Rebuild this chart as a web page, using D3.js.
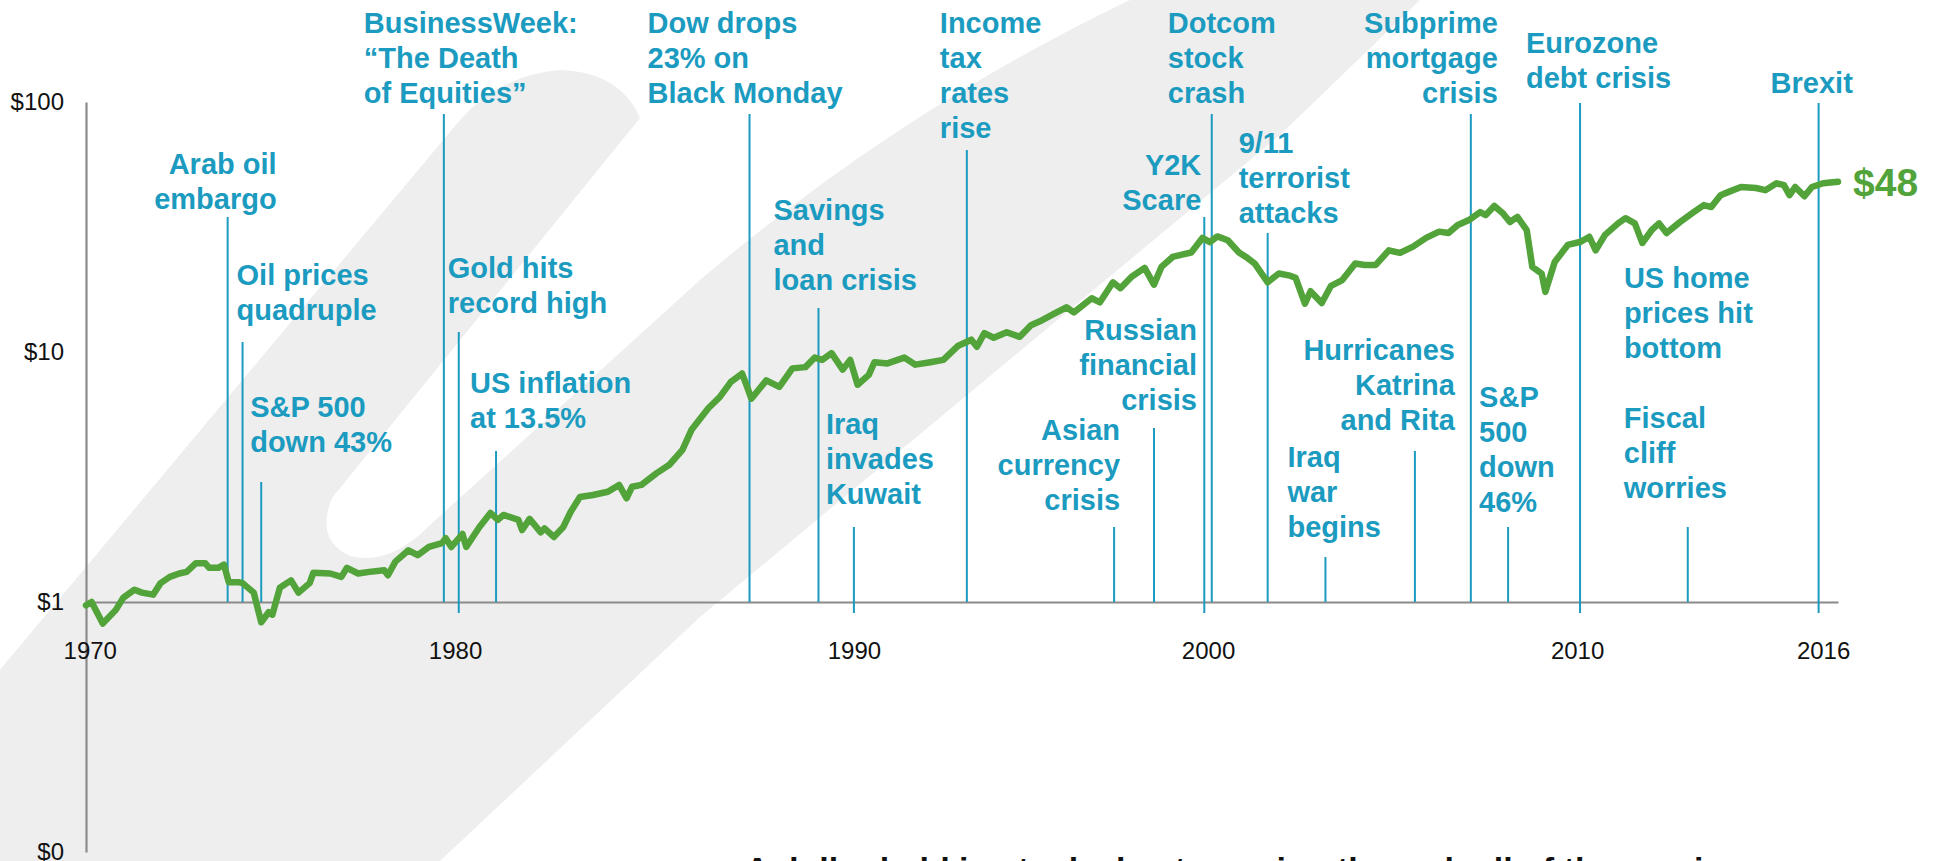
<!DOCTYPE html>
<html>
<head>
<meta charset="utf-8">
<script src="https://cdn.jsdelivr.net/npm/d3@7"></script>
<style>
  html, body { margin: 0; padding: 0; background: #ffffff; }
  svg { display: block; }
</style>
</head>
<body>
<svg id="chart" width="1934" height="861"></svg>
<script>
// ---------------- DATA ----------------
const years = [
  1970.0, 1970.15, 1970.45, 1970.8, 1971.0, 1971.3, 1971.5, 1971.8, 1972.0, 1972.25,
  1972.5, 1972.7, 1972.95, 1973.2, 1973.3, 1973.55, 1973.7, 1973.83, 1974.1, 1974.2,
  1974.5, 1974.7, 1974.9, 1975.0, 1975.2, 1975.5, 1975.7, 1976.0, 1976.1, 1976.55,
  1976.85, 1977.0, 1977.3, 1977.6, 1978.0, 1978.1, 1978.3, 1978.65, 1978.9, 1979.2,
  1979.55, 1979.65, 1979.8, 1980.1, 1980.2, 1980.55, 1980.85, 1981.05, 1981.2, 1981.6,
  1981.7, 1981.9, 1982.2, 1982.3, 1982.55, 1982.8, 1983.0, 1983.25, 1983.6, 1984.0,
  1984.3, 1984.5, 1984.65, 1984.9, 1985.3, 1985.65, 1986.0, 1986.25, 1986.7, 1987.0,
  1987.3, 1987.6, 1987.7, 1987.85, 1988.25, 1988.6, 1988.95, 1989.3, 1989.55, 1989.75,
  1990.0, 1990.3, 1990.5, 1990.7, 1991.0, 1991.15, 1991.5, 1991.95, 1992.25, 1992.65,
  1993.0, 1993.4, 1993.75, 1993.9, 1994.1, 1994.35, 1994.7, 1995.05, 1995.35, 1995.65,
  1996.0, 1996.3, 1996.5, 1996.98, 1997.2, 1997.55, 1997.75, 1998.05, 1998.4, 1998.65,
  1998.85, 1999.15, 1999.4, 1999.65, 1999.95, 2000.15, 2000.35, 2000.63, 2000.93, 2001.17,
  2001.35, 2001.7, 2002.0, 2002.3, 2002.45, 2002.7, 2002.85, 2003.15, 2003.4, 2003.7,
  2004.05, 2004.3, 2004.6, 2004.95, 2005.25, 2005.6, 2005.95, 2006.3, 2006.55, 2006.8,
  2007.1, 2007.4, 2007.55, 2007.78, 2008.0, 2008.2, 2008.4, 2008.65, 2008.8, 2009.05,
  2009.15, 2009.4, 2009.75, 2010.1, 2010.33, 2010.5, 2010.75, 2011.1, 2011.3, 2011.55,
  2011.75, 2012.0, 2012.2, 2012.4, 2012.75, 2013.1, 2013.4, 2013.6, 2013.85, 2014.05,
  2014.4, 2014.8, 2015.05, 2015.35, 2015.55, 2015.7, 2015.85, 2016.1, 2016.3, 2016.6,
  2017.0
];
const values = [
  0.97, 1.0, 0.82, 0.93, 1.04, 1.12, 1.09, 1.07, 1.19, 1.26,
  1.30, 1.32, 1.43, 1.43, 1.37, 1.37, 1.41, 1.20, 1.20, 1.19,
  1.09, 0.83, 0.91, 0.89, 1.14, 1.22, 1.09, 1.19, 1.31, 1.30,
  1.26, 1.37, 1.30, 1.32, 1.34, 1.28, 1.45, 1.61, 1.54, 1.66,
  1.72, 1.80, 1.66, 1.87, 1.66, 1.99, 2.27, 2.13, 2.23, 2.13,
  1.94, 2.15, 1.90, 1.97, 1.82, 1.99, 2.29, 2.63, 2.68, 2.76,
  2.94, 2.60, 2.89, 2.94, 3.27, 3.54, 4.06, 4.9, 5.97, 6.6,
  7.6, 8.2, 7.5, 6.5, 7.7, 7.25, 8.6, 8.7, 9.5, 9.3,
  9.9, 8.5, 9.3, 7.4, 8.1, 9.1, 9.0, 9.5, 8.9, 9.1,
  9.3, 10.6, 11.2, 10.5, 11.9, 11.4, 12.0, 11.5, 12.8, 13.4,
  14.3, 15.1, 14.4, 16.4, 15.8, 19.0, 18.0, 20.0, 21.7, 18.6,
  21.9, 24.0, 24.5, 25.0, 28.6, 27.5, 29.0, 28.0, 25.0, 23.7,
  22.6, 19.0, 20.6, 20.2, 19.8, 15.6, 17.5, 15.7, 18.4, 19.4,
  22.6, 22.3, 22.3, 25.5, 24.9, 26.4, 28.6, 30.3, 29.9, 32.2,
  33.7, 36.3, 35.3, 38.4, 36.0, 33.1, 34.7, 30.7, 21.9, 20.6,
  17.4, 22.9, 26.8, 27.6, 28.9, 25.5, 29.4, 32.7, 34.3, 32.7,
  27.3, 30.7, 32.7, 29.9, 33.0, 36.0, 38.7, 38.0, 42.4, 43.6,
  45.7, 45.3, 44.4, 47.3, 46.5, 42.4, 45.7, 42.0, 45.7, 47.3,
  48.0
];
const finalLabel = "$48";

const yTickValues = [0.1, 1, 10, 100];
const yTickLabels = ["$0", "$1", "$10", "$100"];
const xTickDates = [1970.1, 1979.9, 1990.6, 2000.1, 2010.0, 2016.6];
const xTickLabels = ["1970", "1980", "1990", "2000", "2010", "2016"];

const eventDates = [
  1973.8, 1974.2, 1974.7, 1979.6, 1980.0, 1981.0, 1987.8, 1989.65, 1990.6, 1993.63,
  1997.58, 1998.65, 2000.0, 2000.2, 2001.7, 2003.25, 2005.65, 2007.15, 2008.15, 2010.08,
  2011.9, 2012.97, 2016.48
];
const eventLabels = [
  ["Arab oil", "embargo"],
  ["Oil prices", "quadruple"],
  ["S&P 500", "down 43%"],
  ["BusinessWeek:", "\u201CThe Death", "of Equities\u201D"],
  ["Gold hits", "record high"],
  ["US inflation", "at 13.5%"],
  ["Dow drops", "23% on", "Black Monday"],
  ["Savings", "and", "loan crisis"],
  ["Iraq", "invades", "Kuwait"],
  ["Income", "tax", "rates", "rise"],
  ["Asian", "currency", "crisis"],
  ["Russian", "financial", "crisis"],
  ["Y2K", "Scare"],
  ["Dotcom", "stock", "crash"],
  ["9/11", "terrorist", "attacks"],
  ["Iraq", "war", "begins"],
  ["Hurricanes", "Katrina", "and Rita"],
  ["Subprime", "mortgage", "crisis"],
  ["S&P", "500", "down", "46%"],
  ["Eurozone", "debt crisis"],
  ["US home", "prices hit", "bottom"],
  ["Fiscal", "cliff", "worries"],
  ["Brexit"]
];
const footnote = "A dollar held in stocks kept growing through all of these crises";

// ---------------- LAYOUT (pixels, styles) ----------------
const eventLayout = [
  {a: "end",   dx: 49,   y0: 174, top: 217, below: false, line: true},
  {a: "start", dx: -6,   y0: 285, top: 342, below: false, line: true},
  {a: "start", dx: -11,  y0: 417, top: 482, below: false, line: true},
  {a: "start", dx: -80,  y0: 33,  top: 114, below: false, line: true},
  {a: "start", dx: -11,  y0: 278, top: 332, below: true,  line: true},
  {a: "start", dx: -26,  y0: 393, top: 451, below: false, line: true},
  {a: "start", dx: -102, y0: 33,  top: 114, below: false, line: true},
  {a: "start", dx: -45,  y0: 220, top: 308, below: false, line: true},
  {a: "start", dx: -28,  y0: 434, top: 527, below: true,  line: true},
  {a: "start", dx: -27,  y0: 33,  top: 150, below: false, line: true},
  {a: "end",   dx: 6,    y0: 440, top: 527, below: false, line: true},
  {a: "end",   dx: 43,   y0: 340, top: 428, below: false, line: true},
  {a: "end",   dx: -3,   y0: 175, top: 217, below: true,  line: true},
  {a: "start", dx: -44,  y0: 33,  top: 114, below: false, line: true},
  {a: "start", dx: -29,  y0: 153, top: 233, below: false, line: true},
  {a: "start", dx: -38,  y0: 467, top: 557, below: false, line: true},
  {a: "end",   dx: 40,   y0: 360, top: 451, below: false, line: true},
  {a: "end",   dx: 27,   y0: 33,  top: 114, below: false, line: true},
  {a: "start", dx: -29,  y0: 407, top: 527, below: false, line: true},
  {a: "start", dx: -54,  y0: 53,  top: 103, below: true,  line: true},
  {a: "start", dx: -24,  y0: 288, top: 0,   below: false, line: false},
  {a: "start", dx: -64,  y0: 428, top: 527, below: false, line: true},
  {a: "start", dx: -48,  y0: 93,  top: 103, below: true,  line: true}
];

const TEAL = "#1b9bbf";
const GREEN = "#52a339";
const AXIS = "#8a8a8a";
const FONT = "'Liberation Sans', Arial, Helvetica, sans-serif";

const svg = d3.select("#chart");

// ---------------- WATERMARK ----------------
svg.append("path")
  .attr("d", "M-160,861 L460,120 Q500,75 560,70 Q620,72 640,118 L332,498 Q315,540 350,556 Q390,566 430,525 L700,280 Q900,110 1130,0 L1420,0 L1280,135 L700,617 L440,861 Z")
  .attr("fill", "#eeeeee");

// ---------------- SCALES ----------------
const x = d3.scaleLinear().domain([1970, 2017]).range([86, 1838]);
const y = d3.scaleLog().domain([0.1, 100]).range([852, 102]);

// ---------------- AXES ----------------
const yAxisG = svg.append("g")
  .attr("transform", `translate(${x(1970)},0)`)
  .call(d3.axisLeft(y).tickValues(yTickValues).tickFormat((d, i) => yTickLabels[i])
        .tickSize(0).tickSizeOuter(0).tickPadding(22));
const xAxisG = svg.append("g")
  .attr("transform", `translate(0,${y(1)})`)
  .call(d3.axisBottom(x).tickValues(xTickDates).tickFormat((d, i) => xTickLabels[i])
        .tickSize(0).tickSizeOuter(0).tickPadding(40));
[yAxisG, xAxisG].forEach(g => {
  g.select(".domain").attr("stroke", AXIS).attr("stroke-width", 2.2);
  g.selectAll("text").attr("font-family", FONT).attr("font-size", 24).attr("fill", "#111");
});

// ---------------- EVENT LINES ----------------
const events = eventDates.map((d, i) => ({date: d, lines: eventLabels[i], L: eventLayout[i]}));
svg.append("g").selectAll("line")
  .data(events.filter(e => e.L.line))
  .join("line")
  .attr("x1", e => x(e.date)).attr("x2", e => x(e.date))
  .attr("y1", e => e.L.top)
  .attr("y2", e => e.L.below ? y(1) + 11 : y(1))
  .attr("stroke", TEAL).attr("stroke-width", 2);

// ---------------- SERIES ----------------
const series = years.map((yr, i) => ({year: yr, value: values[i]}));
svg.append("path")
  .datum(series)
  .attr("fill", "none")
  .attr("stroke", GREEN)
  .attr("stroke-width", 6.5)
  .attr("stroke-linejoin", "round")
  .attr("stroke-linecap", "round")
  .attr("d", d3.line().x(d => x(d.year)).y(d => y(d.value)));

const last = series[series.length - 1];
svg.append("text")
  .attr("x", x(last.year) + 15)
  .attr("y", y(last.value) + 14)
  .attr("font-family", FONT).attr("font-weight", "bold").attr("font-size", 39)
  .attr("fill", GREEN)
  .text(finalLabel);

// ---------------- EVENT LABELS ----------------
const labelG = svg.append("g");
events.forEach(e => {
  const t = labelG.append("text")
    .attr("font-family", FONT).attr("font-weight", "bold").attr("font-size", 29)
    .attr("fill", TEAL)
    .attr("text-anchor", e.L.a);
  e.lines.forEach((ln, k) => {
    t.append("tspan")
      .attr("x", x(e.date) + e.L.dx)
      .attr("y", e.L.y0 + k * 35)
      .text(ln);
  });
});

// ---------------- FOOTNOTE (cut off at bottom) ----------------
svg.append("text")
  .attr("x", 745).attr("y", 881)
  .attr("font-family", FONT).attr("font-weight", "bold").attr("font-size", 34)
  .attr("fill", "#111")
  .text(footnote);
</script>
</body>
</html>
